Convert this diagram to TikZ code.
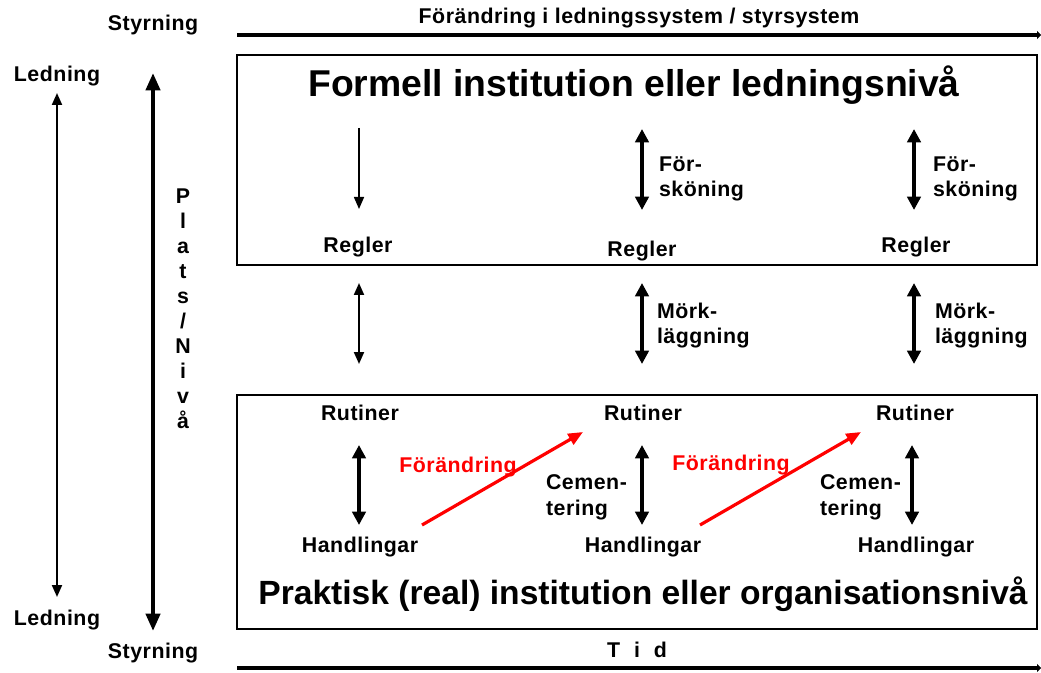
\documentclass[tikz,border=0pt]{standalone}
\usepackage{fontspec}
\setmainfont{Liberation Sans}
\newfontfamily\lblfont[LetterSpace=2.5]{Liberation Sans}
\usetikzlibrary{arrows.meta}

\begin{document}
\begin{tikzpicture}[x=0.75pt,y=-0.75pt,
  every node/.style={inner sep=0pt, outer sep=0pt},
  txt/.style={font=\lblfont\bfseries\fontsize{16}{19}\selectfont, anchor=base},
  pair/.style={font=\lblfont\bfseries\fontsize{16}{19}\selectfont, align=left, anchor=base west},
  big/.style={font=\bfseries\fontsize{28}{32}\selectfont, anchor=base},
  bigb/.style={font=\bfseries\fontsize{25.2}{30}\selectfont, anchor=base},
  red txt/.style={txt, text=red},
  box/.style={draw, line width=1.5pt},
  thin arrow/.style={line width=1.5pt, {Triangle[length=9pt,width=7.5pt]}-{Triangle[length=9pt,width=7.5pt]}},
  thick arrow/.style={line width=3pt, {Triangle[length=10pt,width=10pt]}-{Triangle[length=10pt,width=10pt]}},
  down arrow/.style={line width=1.2pt, -{Triangle[length=9pt,width=7.5pt]}},
  time arrow/.style={line width=3pt, -{Triangle[length=3pt,width=6pt]}},
  change/.style={draw=red, line width=2.4pt, -{Triangle[length=11pt,width=9pt]}}
]
\useasboundingbox (0,0) rectangle (1041,673);

% ---- top and bottom time axes ----
\node[txt] (styrT) at (153,31) {Styrning};
\node[txt] (ledsys) at (639,24) {Förändring i ledningssystem / styrsystem};
\coordinate (axT0) at (237,35);
\coordinate (axT1) at (1041,35);
\draw[time arrow] (axT0) -- (axT1);

\node[txt] (styrB) at (153,658) {Styrning};
\node[txt] (tid) at (637,657) {T\hspace{0.65em}i\hspace{0.65em}d};
\coordinate (axB0) at (237,668);
\coordinate (axB1) at (1041,668);
\draw[time arrow] (axB0) -- (axB1);

% ---- vertical axes on the left ----
\node[txt] (ledT) at (57,82) {Ledning};
\node[txt] (ledB) at (57,625) {Ledning};
\coordinate (l0) at (57,93);
\coordinate (l1) at (57,597);
\draw[thin arrow] (l0) -- (l1);

\coordinate (s0) at (153,73);
\coordinate (s1) at (153,631);
\draw[line width=3pt, {Triangle[length=13pt,width=10.5pt]}-{Triangle[length=13pt,width=10.5pt]}] (s0) -- (s1);

\node[font=\bfseries\fontsize{16}{18.7}\selectfont, align=center, anchor=north] (plats) at (183,189)
  {P\\l\\a\\t\\s\\/\\N\\i\\v\\å};

% ---- formal level box ----
\coordinate (tb0) at (237,55);
\coordinate (tb1) at (1037,265);
\draw[box] (tb0) rectangle (tb1);
\node[big] (formell) at (634,97) {Formell institution eller ledningsnivå};

\coordinate (a1t) at (359,128);
\coordinate (a1b) at (359,209);
\draw[down arrow] (a1t) -- (a1b);
\node[txt] (regler1) at (358,253) {Regler};

\coordinate (a2t) at (642,129);
\coordinate (a2b) at (642,210);
\draw[thick arrow] (a2t) -- (a2b);
\node[pair] (fors2) at (659,197) {För-\\sköning};
\node[txt] (regler2) at (642,257) {Regler};

\coordinate (a3t) at (914,129);
\coordinate (a3b) at (914,210);
\draw[thick arrow] (a3t) -- (a3b);
\node[pair] (fors3) at (933,197) {För-\\sköning};
\node[txt] (regler3) at (916,253) {Regler};

% ---- between the levels ----
\coordinate (b1t) at (359,283);
\coordinate (b1b) at (359,364);
\draw[thin arrow] (b1t) -- (b1b);

\coordinate (b2t) at (642,283);
\coordinate (b2b) at (642,364);
\draw[thick arrow] (b2t) -- (b2b);
\node[pair] (mork2) at (657,344) {Mörk-\\läggning};

\coordinate (b3t) at (914,283);
\coordinate (b3b) at (914,364);
\draw[thick arrow] (b3t) -- (b3b);
\node[pair] (mork3) at (935,344) {Mörk-\\läggning};

% ---- practical level box ----
\coordinate (bb0) at (237,395);
\coordinate (bb1) at (1037,629);
\draw[box] (bb0) rectangle (bb1);
\node[bigb] (praktisk) at (643,604) {Praktisk (real) institution eller organisationsnivå};

\node[txt] (rut1) at (360,420) {Rutiner};
\node[txt] (rut2) at (643,420) {Rutiner};
\node[txt] (rut3) at (915,420) {Rutiner};
\node[txt] (hand1) at (360,552) {Handlingar};
\node[txt] (hand2) at (643,552) {Handlingar};
\node[txt] (hand3) at (916,552) {Handlingar};

\coordinate (c1t) at (359,445);
\coordinate (c1b) at (359,525);
\draw[thick arrow] (c1t) -- (c1b);
\coordinate (c2t) at (642,445);
\coordinate (c2b) at (642,525);
\draw[thick arrow] (c2t) -- (c2b);
\coordinate (c3t) at (912,445);
\coordinate (c3b) at (912,525);
\draw[thick arrow] (c3t) -- (c3b);

\node[pair] (cem2) at (546,515) {Cemen-\\tering};
\node[pair] (cem3) at (820,515) {Cemen-\\tering};

% ---- change arrows ----
\node[red txt] (fr1) at (458,472) {Förändring};
\node[red txt] (fr2) at (731,470) {Förändring};
\coordinate (r1s) at (422,525);
\coordinate (r1e) at (583,432);
\draw[change] (r1s) -- (r1e);
\coordinate (r2s) at (700,525);
\coordinate (r2e) at (861,432);
\draw[change] (r2s) -- (r2e);
\end{tikzpicture}
\end{document}
